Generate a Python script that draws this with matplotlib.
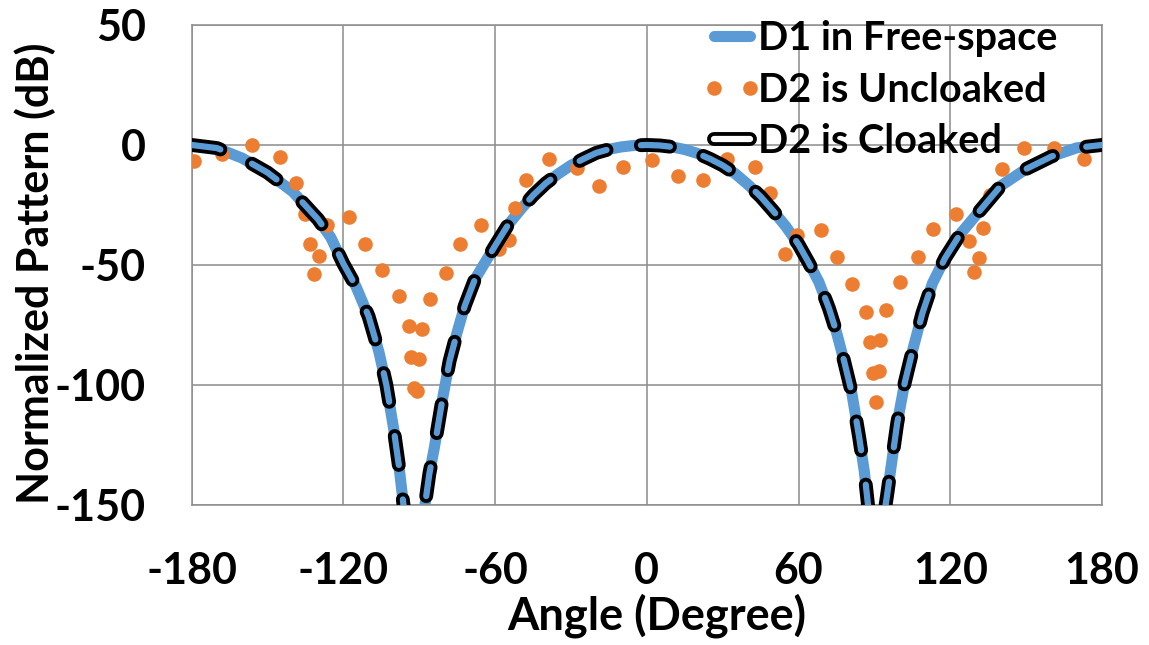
import matplotlib
matplotlib.use("Agg")
import matplotlib.pyplot as plt
from matplotlib.lines import Line2D
from matplotlib.legend_handler import HandlerTuple

# Free-space pattern of D1 (deg, dB); nulls drop below the -150 dB floor
angle_deg = [-180, -170, -160, -150, -140, -130, -125, -120, -115, -110,
             -106, -103, -100, -98, -96, -94, -92, -90, -88, -86,
             -84, -81, -78, -75, -72, -68, -64, -60, -55, -50,
             -45, -40, -35, -30, -25, -20, -15, -10, -5, 0,
             5, 10, 15, 20, 25, 30, 35, 40, 45, 50,
             55, 60, 64, 68, 72, 75, 78, 81, 84, 86,
             88, 90.5, 93, 95, 97, 99, 102, 105, 109, 113,
             118, 124, 130, 140, 150, 160, 170, 180]
free_space_db = [0, -1.3, -5.5, -11.5, -19.5, -31, -38.5, -49.5, -59, -71.5,
                 -86, -100, -119, -134, -152, -175, -200, -175, -152, -137,
                 -126, -107, -90, -78, -67, -56, -49, -42, -33.5, -27,
                 -21, -16, -12, -8.5, -5.8, -3.3, -1.8, -0.8, -0.2, 0,
                 -0.2, -0.8, -1.9, -3.5, -5.8, -8.5, -12, -16.5, -21.5, -27.5,
                 -34, -41.5, -49, -57, -68, -78, -90, -103, -122, -136,
                 -155, -200, -160, -146, -131, -116, -99, -86, -70, -57.5,
                 -47, -37, -29.5, -17, -10, -4.8, -1.2, 0]
# with the cloak in place D2 follows the free-space pattern
cloaked_db = list(free_space_db)

# D2 uncloaked: measured points
uncloaked_deg = [-179.2, -168.0, -156.1, -145.2, -138.7, -135.0, -133.1, -131.8,
                 -129.8, -126.5, -117.9, -111.6, -104.7, -98.1, -94.2, -93.1,
                 -92.2, -90.9, -90.2, -88.9, -85.9, -79.4, -73.7, -65.5,
                 -58.6, -54.6, -52.0, -47.8, -38.8, -27.6, -19.0, -9.3,
                 2.1, 12.3, 22.3, 31.8, 42.7, 48.9, 54.8, 59.5,
                 69.0, 75.2, 81.0, 86.5, 88.4, 89.5, 90.7, 91.7,
                 92.4, 94.7, 100.1, 107.1, 113.2, 122.1, 127.3, 129.3,
                 131.3, 132.9, 135.6, 140.5, 149.3, 161.0, 172.8]
uncloaked_db = [-6.7, -3.9, -0.1, -5.0, -16.0, -28.9, -41.4, -53.9,
                -46.2, -33.5, -30.0, -41.1, -52.1, -62.9, -75.4, -88.2,
                -101.1, -102.5, -89.3, -76.5, -64.0, -53.2, -41.4, -33.3,
                -43.5, -39.6, -26.1, -14.7, -5.7, -9.8, -17.1, -9.2,
                -6.4, -12.9, -14.7, -5.7, -9.0, -20.1, -45.5, -37.6,
                -35.6, -46.6, -58.0, -69.6, -82.3, -95.1, -107.3, -94.2,
                -81.2, -68.7, -57.1, -46.5, -35.1, -28.6, -40.0, -52.9,
                -47.3, -34.8, -21.0, -10.0, -1.3, -1.1, -6.0]

x_ticks = [-180, -120, -60, 0, 60, 120, 180]
y_ticks = [50, 0, -50, -100, -150]

BLUE = "#5B9BD5"
ORANGE = "#ED7D31"

plt.rcParams["font.family"] = ["Lato", "DejaVu Sans"]
plt.rcParams["font.weight"] = "bold"
plt.rcParams["lines.scale_dashes"] = False
plt.rcParams["axes.unicode_minus"] = False

fig = plt.figure(figsize=(11.49, 6.45), dpi=100)
ax = fig.add_axes([0.1668, 0.2171, 0.7923, 0.7442])

ax.plot(angle_deg, free_space_db, color=BLUE, lw=8, solid_capstyle="round",
        zorder=2)
ax.plot(uncloaked_deg, uncloaked_db, "o", color=ORANGE, ms=10.5, mec="none",
        zorder=3)
# hollow dashes: thick black dash with a thin blue core on top
dash = (0, (21, 25))
ax.plot(angle_deg, cloaked_db, color="black", lw=10, linestyle=dash,
        dash_capstyle="round", zorder=4)
ax.plot(angle_deg, cloaked_db, color=BLUE, lw=4.5, linestyle=dash,
        dash_capstyle="round", zorder=5)

ax.set_xlim(-180, 180)
ax.set_ylim(-150, 50)
ax.set_xticks(x_ticks)
ax.set_yticks(y_ticks)
ax.grid(True, color="#8c8c8c", lw=1.1)
ax.set_axisbelow(True)
for s in ax.spines.values():
    s.set_color("#8c8c8c")
    s.set_linewidth(1.1)
ax.tick_params(length=0, labelsize=31)
ax.tick_params(axis="x", pad=33)
ax.tick_params(axis="y", pad=33)

ax.set_xlabel("Angle (Degree)", fontsize=32.5, fontweight="bold")
ax.xaxis.set_label_coords(0.511, -0.185)
ax.set_ylabel("Normalized Pattern (dB)", fontsize=31, fontweight="bold")
ax.yaxis.set_label_coords(-0.149, 0.483)

h_free = Line2D([], [], color=BLUE, lw=8, solid_capstyle="round")
h_unc = Line2D([], [], color=ORANGE, marker="o", ms=10.5, mec="none", ls="none")
h_clk = (Line2D([], [], color="black", lw=10, solid_capstyle="round"),
         Line2D([], [], color="white", lw=4.5, solid_capstyle="round"))
ax.legend([h_free, h_unc, h_clk],
          ["D1 in Free-space", "D2 is Uncloaked", "D2 is Cloaked"],
          handler_map={tuple: HandlerTuple(ndivide=1)},
          loc="upper left", bbox_to_anchor=(0.561, 1.0096), frameon=False,
          fontsize=28.5, numpoints=2, handlelength=1.515, handletextpad=-0.11,
          labelspacing=0.36, borderaxespad=0, borderpad=0)

fig.savefig("out.png", dpi=100)
